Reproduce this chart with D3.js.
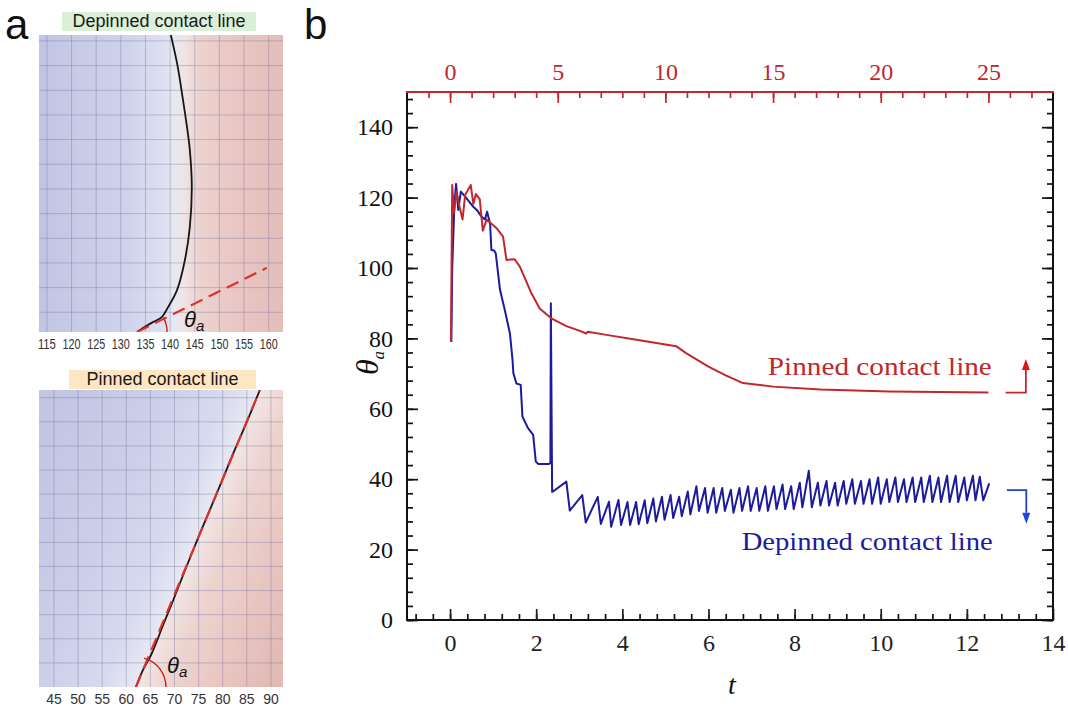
<!DOCTYPE html>
<html><head><meta charset="utf-8">
<script src="https://cdn.jsdelivr.net/npm/d3@7"></script>
<style>body{margin:0;background:#fff}</style>
</head><body><svg id="c" width="1068" height="711"></svg>
<script>
// ---------- Panel b data ----------
const pinnedT = [0.02,0.05,0.09,0.15,0.22,0.29,0.35,0.48,0.54,0.60,0.69,0.76,0.85,1.08,1.23,1.31,1.50,1.62,1.89,2.08,2.35,2.70,3.00,3.16,3.20,3.63,4.40,5.25,5.48,6.00,6.40,6.80,7.50,8.60,10.20,12.50];
const pinnedTheta = [79,123.6,115.5,121.7,117.4,113.8,120.7,123.6,118.2,121.0,119.5,110.6,113.8,111.3,108.9,102.3,102.5,100.4,92.8,88.5,85.7,83.5,82.2,81.4,81.9,81.0,79.5,77.8,75.8,72.0,69.5,67.3,66.3,65.5,64.9,64.6];
const depinnedT = [0.03,0.05,0.10,0.14,0.19,0.25,0.35,0.54,0.62,0.73,0.81,0.86,0.93,0.96,1.02,1.06,1.16,1.27,1.39,1.45,1.47,1.54,1.64,1.68,1.81,1.93,1.99,2.05,2.28,2.33,2.34,2.37,2.39,2.70,2.78,3.07,3.15,3.43,3.50,3.69,3.74,3.91,3.97,4.12,4.18,4.32,4.38,4.52,4.58,4.72,4.78,4.92,4.98,5.12,5.18,5.32,5.38,5.52,5.58,5.72,5.78,5.92,5.98,6.12,6.18,6.32,6.38,6.52,6.58,6.72,6.78,6.92,6.98,7.12,7.18,7.32,7.38,7.52,7.58,7.72,7.78,7.92,7.98,8.12,8.18,8.33,8.40,8.54,8.60,8.74,8.80,8.94,9.00,9.14,9.20,9.34,9.40,9.54,9.60,9.74,9.80,9.94,10.00,10.14,10.20,10.34,10.40,10.54,10.60,10.74,10.80,10.94,11.00,11.14,11.20,11.34,11.40,11.54,11.60,11.74,11.80,11.94,12.00,12.14,12.20,12.30,12.38,12.52];
const depinnedTheta = [79,100,118,123.9,116.5,121.7,120.3,117.4,116.5,114.6,113.8,116.0,112.5,105.1,105.0,104.2,93.8,88.1,81.4,73.9,70.1,67.2,66.8,57.8,54.5,52.6,45.0,44.3,44.3,44.5,90,36.4,36.5,39.3,31.1,35.5,27.7,35.0,27.3,33.6,26.5,34.1,27.0,33.5,27.0,33.5,27.2,34,27.5,34.5,28,35,28.5,35.5,29,35,29.5,36.5,30,38,31,37.5,30.5,37.5,30.5,37.5,31,37,30.5,37.5,31,38,31,37.5,31,38,31,38,31.5,38.5,31.5,38,31.5,39,32,42.4,32,39,32.5,39.5,32.5,39,32.5,39.5,33,40,33,39.5,33,40,33,40.5,33,40,33.5,40.5,33.5,40,33.5,40.5,33.5,40.5,33.5,41,33.5,40.5,33.5,41,33.5,41,33.5,40.5,34,41,34,40.7,34,38.8];
const bottomTicks = [0,2,4,6,8,10,12,14];
const topTicks = [0,5,10,15,20,25];
const leftTicks = [0,20,40,60,80,100,120,140];
const seriesLabels = ["Pinned contact line","Depinned contact line"];

// ---------- Panel a data ----------
const depinTickLabels = [115,120,125,130,135,140,145,150,155,160];
const depinGridY = [0,5,10,15,20,25,30,35,40,45,50,55];
const depinCurveX = [140.15,141.5,142.6,143.5,144.0,144.4,144.0,143.0,141.4,139.5,138.3,136.5,134.5,133.3];
const depinCurveY = [56.2,50,43.1,37,32.9,25.4,17.3,10.6,4.5,0.9,-1.0,-2.0,-3.2,-4.0];
const depinTangentX = [133.3,159.6];
const depinTangentY = [-4.0,9.0];
const pinTickLabels = [45,50,55,60,65,70,75,80,85,90];
const pinGridY = [5,10,15,20,25,30,35,40,45,50,55,60];
const pinCurveX = [62.0,63.3,65.3,67.5,69.75,72.5,75.3,78.7,82.2,85.0,87.7];
const pinCurveY = [0,3.2,7.0,12.5,18.05,25,31.9,40,48.5,55,61.6];
const pinTangentX = [62.0,87.7];
const pinTangentY = [0,61.6];

const serif = "'Liberation Serif','Times New Roman',serif";
const sans = "'Liberation Sans',Arial,sans-serif";
const RED = "#c1272d", BLUE = "#1b1b9c";

const svg = d3.select('#c');
svg.append('rect').attr('width',1068).attr('height',711).attr('fill','#fff');
const defs = svg.append('defs');

// =============== Panel b ===============
const x = d3.scaleLinear().domain([-1,14]).range([407,1053]);
const xTop = d3.scaleLinear().domain([-2,28]).range([407,1053]);
const y = d3.scaleLinear().domain([0,150]).range([620,92]);

function styleAxis(g, color, size){
  g.select('.domain').remove();
  g.selectAll('line').attr('stroke',color).attr('stroke-width',1.7);
  g.selectAll('text').attr('fill',color).style('font-family',serif).style('font-size',(size||24)+'px');
}
const minorX = d3.range(-2,36).map(i=>+(i*0.4).toFixed(2)).filter(v=>v>-1&&v<14);
const minorY = d3.range(0,38).map(i=>i*4).filter(v=>v<150);
const minorTop = d3.range(-1,28);

svg.append('g').attr('transform','translate(407,0)').call(d3.axisLeft(y).tickValues(minorY).tickSize(-6).tickFormat('')).call(g=>styleAxis(g,'#111'));
svg.append('g').attr('transform','translate(407,0)').call(d3.axisLeft(y).tickValues(leftTicks).tickSize(-11).tickPadding(14)).call(g=>styleAxis(g,'#111'));
svg.append('g').attr('transform','translate(1053,0)').call(d3.axisRight(y).tickValues(minorY).tickSize(-6).tickFormat('')).call(g=>styleAxis(g,'#111'));
svg.append('g').attr('transform','translate(1053,0)').call(d3.axisRight(y).tickValues(leftTicks).tickSize(-11).tickFormat('')).call(g=>styleAxis(g,'#111'));
svg.append('g').attr('transform','translate(0,620)').call(d3.axisBottom(x).tickValues(minorX).tickSize(-6).tickFormat('')).call(g=>styleAxis(g,'#111'));
svg.append('g').attr('transform','translate(0,620)').call(d3.axisBottom(x).tickValues(bottomTicks).tickSize(-11).tickPadding(14)).call(g=>styleAxis(g,'#222'));
svg.append('g').attr('transform','translate(0,92)').call(d3.axisTop(xTop).tickValues(minorTop).tickSize(-6).tickFormat('')).call(g=>styleAxis(g,RED));
svg.append('g').attr('transform','translate(0,92)').call(d3.axisTop(xTop).tickValues(topTicks).tickSize(-11).tickPadding(12)).call(g=>styleAxis(g,RED));

// frame
const fr = svg.append('g').attr('stroke-width',2).attr('fill','none');
fr.append('line').attr('x1',407).attr('x2',407).attr('y1',92).attr('y2',621).attr('stroke','#111');
fr.append('line').attr('x1',406).attr('x2',1054).attr('y1',620).attr('y2',620).attr('stroke','#111');
fr.append('line').attr('x1',1053).attr('x2',1053).attr('y1',92).attr('y2',621).attr('stroke','#111');
fr.append('line').attr('x1',406).attr('x2',1054).attr('y1',92).attr('y2',92).attr('stroke',RED);

const line = d3.line().x(d=>x(d[0])).y(d=>y(d[1]));
const pinned = d3.zip(pinnedT,pinnedTheta);
const depinned = d3.zip(depinnedT,depinnedTheta);
svg.append('path').attr('d',line(depinned)).attr('fill','none').attr('stroke',BLUE).attr('stroke-width',2).attr('stroke-linejoin','round');
svg.append('path').attr('d',line(pinned)).attr('fill','none').attr('stroke',RED).attr('stroke-width',2).attr('stroke-linejoin','round');

// labels
svg.append('text').attr('x',x(12.58)).attr('y',y(69.6)).attr('text-anchor','end')
  .attr('textLength',224).attr('lengthAdjust','spacingAndGlyphs')
  .style('font-family',serif).style('font-size','25px').attr('fill',RED).text(seriesLabels[0]);
svg.append('text').attr('x',x(12.6)).attr('y',y(19.9)).attr('text-anchor','end')
  .attr('textLength',251).attr('lengthAdjust','spacingAndGlyphs')
  .style('font-family',serif).style('font-size','25px').attr('fill',BLUE).text(seriesLabels[1]);

// arrows
svg.append('path').attr('d',`M${x(12.9)},${y(64.6)}H${x(13.37)}V${y(71)}`).attr('fill','none').attr('stroke',RED).attr('stroke-width',1.8);
svg.append('path').attr('d',`M${x(13.37)-4},${y(71)}L${x(13.37)+4},${y(71)}L${x(13.37)},${y(71)-11}Z`).attr('fill','#e0141a');
svg.append('path').attr('d',`M${x(12.93)},${y(36.9)}H${x(13.38)}V${y(30.5)}`).attr('fill','none').attr('stroke','#1f45c4').attr('stroke-width',1.8);
svg.append('path').attr('d',`M${x(13.38)-4},${y(30.5)}L${x(13.38)+4},${y(30.5)}L${x(13.38)},${y(30.5)+11}Z`).attr('fill','#1a47e0');

// axis titles
const yl = svg.append('text').attr('transform','translate(378,363) rotate(-90)').attr('text-anchor','middle')
  .style('font-family',serif).style('font-style','italic').style('font-size','32px').attr('fill','#111');
yl.append('tspan').text('θ');
yl.append('tspan').attr('dy',6).style('font-size','17px').text('a');
svg.append('text').attr('x',732).attr('y',694).attr('text-anchor','middle')
  .style('font-family',serif).style('font-style','italic').style('font-size','28px').attr('fill','#111').text('t');

// panel letters
svg.append('text').attr('x',5).attr('y',39).style('font-family',sans).style('font-size','42px').attr('fill','#111').text('a');
svg.append('text').attr('x',304).attr('y',39).style('font-family',sans).style('font-size','42px').attr('fill','#111').text('b');

// =============== Panel a ===============
function gradient(id, x1,y1,x2,y2, stops){
  const g = defs.append('linearGradient').attr('id',id).attr('gradientUnits','userSpaceOnUse')
    .attr('x1',x1).attr('y1',y1).attr('x2',x2).attr('y2',y2);
  stops.forEach(s=>g.append('stop').attr('offset',s[0]).attr('stop-color',s[1]));
}
function panel(opts){
  const {ax, ay, gid, clip, ticks, gridY, curveX, curveY, tanX, tanY, title, titleBox, titleFill, tickY, tickLen, thetaPos, smooth} = opts;
  const [x0,x1] = ax.range(), [y1,y0] = ay.range();
  defs.append('clipPath').attr('id',clip).append('rect').attr('x',x0).attr('y',y0).attr('width',x1-x0).attr('height',y1-y0);
  const g = svg.append('g');
  g.append('rect').attr('x',x0).attr('y',y0).attr('width',x1-x0).attr('height',y1-y0).attr('fill',`url(#${gid})`);
  const gg = g.append('g').attr('clip-path',`url(#${clip})`);
  gg.selectAll('.vg').data(ticks).join('line').attr('x1',d=>ax(d)).attr('x2',d=>ax(d)).attr('y1',y0).attr('y2',y1)
    .attr('stroke','#6a6c96').attr('stroke-opacity',0.35).attr('stroke-width',1);
  gg.selectAll('.hg').data(gridY).join('line').attr('y1',d=>ay(d)).attr('y2',d=>ay(d)).attr('x1',x0).attr('x2',x1)
    .attr('stroke','#6a6c96').attr('stroke-opacity',0.35).attr('stroke-width',1);
  const ln = d3.line().x(d=>ax(d[0])).y(d=>ay(d[1])).curve(smooth?d3.curveCatmullRom:d3.curveLinear);
  gg.append('path').attr('d',ln(d3.zip(curveX,curveY))).attr('fill','none').attr('stroke','#161616').attr('stroke-width',1.8);
  gg.append('path').attr('d',d3.line().x(d=>ax(d[0])).y(d=>ay(d[1]))(d3.zip(tanX,tanY))).attr('fill','none')
    .attr('stroke','#e0302e').attr('stroke-width',2.2).attr('stroke-dasharray','13,7');
  // angle arc
  const vx = ax(tanX[0]), vy = ay(tanY[0]);
  const ang = Math.atan2(ay(tanY[1])-vy, ax(tanX[1])-vx);
  const p = d3.path(); p.arc(vx,vy,opts.arcR,ang-opts.arcExtra,0,false);
  gg.append('path').attr('d',p.toString()).attr('fill','none').attr('stroke','#cc1f1f').attr('stroke-width',1.4);
  const th = g.append('text').attr('x',thetaPos[0]).attr('y',thetaPos[1]).style('font-family',sans).style('font-style','italic').style('font-size','22px').attr('fill','#111');
  th.append('tspan').text('θ');
  th.append('tspan').attr('dy',4).style('font-size','15px').text('a');
  // tick labels
  g.selectAll('.tl').data(ticks).join('text').attr('x',d=>ax(d)).attr('y',tickY).attr('text-anchor','middle')
    .style('font-family',sans).style('font-size','14px').attr('fill','#333')
    .each(function(d){ if(tickLen) d3.select(this).attr('textLength',tickLen).attr('lengthAdjust','spacingAndGlyphs'); })
    .text(d=>d);
  // title
  g.append('rect').attr('x',titleBox[0]).attr('y',titleBox[1]).attr('width',titleBox[2]).attr('height',titleBox[3]).attr('fill',titleFill);
  g.append('text').attr('x',titleBox[0]+titleBox[2]/2).attr('y',titleBox[1]+titleBox[3]-4).attr('text-anchor','middle')
    .style('font-family',sans).style('font-size','18px').attr('fill','#1a1a1a').text(title);
}

const ax1 = d3.scaleLinear().domain([113.4,162.9]).range([39,283]);
const ay1 = d3.scaleLinear().domain([-4,56.2]).range([332,35]);
const ax2 = d3.scaleLinear().domain([41.9,92.5]).range([39,283]);
const ay2 = d3.scaleLinear().domain([0,61.6]).range([687,390]);

gradient('g1',39,0,283,0,[[0,'#c1c5e3'],[0.35,'#ced2ea'],[0.5,'#dcdff0'],[0.56,'#e8e8f1'],[0.6,'#efe3e2'],[0.66,'#ecd2cf'],[0.8,'#e9c7c4'],[1,'#e4bdba']]);
{
  const px0 = ax2(pinTangentX[0]), py0 = ay2(pinTangentY[0]), px1 = ax2(pinTangentX[1]), py1 = ay2(pinTangentY[1]);
  const mx = (px0+px1)/2, my = (py0+py1)/2;
  let nx = -(py1-py0), ny = (px1-px0); const L = Math.hypot(nx,ny); nx/=L; ny/=L;
  if (nx<0){nx=-nx;ny=-ny;}
  gradient('g2',mx-180*nx,my-180*ny,mx+120*nx,my+120*ny,[[0,'#c2c6e3'],[0.3,'#cbcfe9'],[0.5,'#d8dbef'],[0.59,'#e6e7f2'],[0.61,'#f1e4e2'],[0.7,'#edd3cf'],[0.85,'#e9c6c2'],[1,'#e2bab6']]);
}

panel({ax:ax1, ay:ay1, gid:'g1', clip:'c1', ticks:depinTickLabels, gridY:depinGridY, curveX:depinCurveX, curveY:depinCurveY,
  tanX:depinTangentX, tanY:depinTangentY, title:'Depinned contact line', titleBox:[62,12,194,19], titleFill:'#dcefd9',
  tickY:349, tickLen:18, thetaPos:[184,327], smooth:true, arcR:30, arcExtra:0.05});
panel({ax:ax2, ay:ay2, gid:'g2', clip:'c2', ticks:pinTickLabels, gridY:pinGridY, curveX:pinCurveX, curveY:pinCurveY,
  tanX:pinTangentX, tanY:pinTangentY, title:'Pinned contact line', titleBox:[69,370,187,19], titleFill:'#fde7c3',
  tickY:704, tickLen:0, thetaPos:[167,673], smooth:true, arcR:30, arcExtra:0.12});
</script></body></html>
